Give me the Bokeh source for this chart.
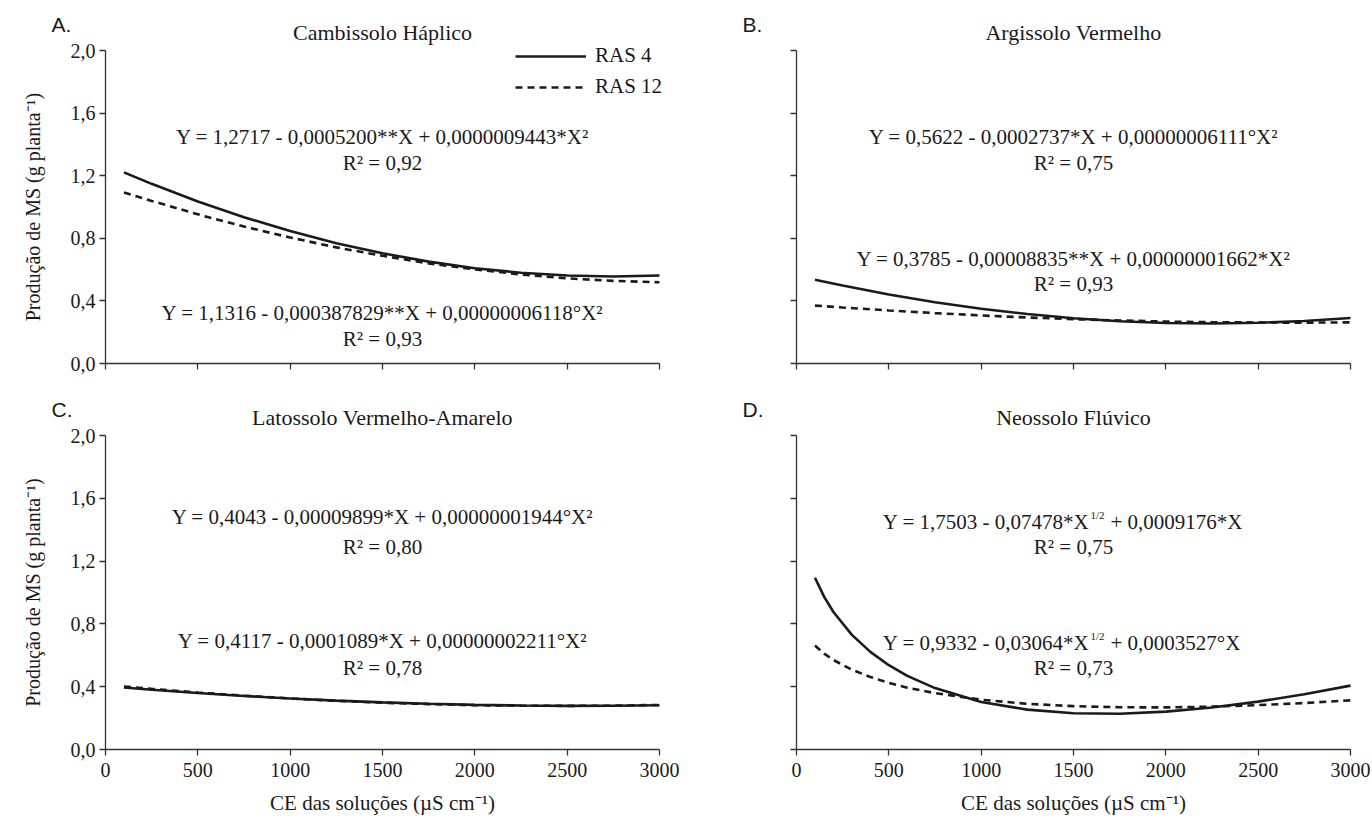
from bokeh.plotting import figure
from bokeh.models import (Range1d, FixedTicker, CustomJSTickFormatter, Label,
                          Legend, LegendItem, LinearAxis)
from bokeh.layouts import column, row
from bokeh.embed import file_html
from bokeh.resources import INLINE

# ---------------- data ----------------
x_ticks = [0, 500, 1000, 1500, 2000, 2500, 3000]
y_ticks = [0.0, 0.4, 0.8, 1.2, 1.6, 2.0]

ce = [100, 250, 500, 750, 1000, 1250, 1500, 1750, 2000, 2250, 2500, 2750, 3000]
ce_d = [100, 150, 200, 300, 400, 500, 600, 750, 1000, 1250, 1500, 1750,
        2000, 2250, 2500, 2750, 3000]

# A. Cambissolo Háplico
a_ras4 = [1.221, 1.148, 1.035, 0.935, 0.846, 0.769, 0.704, 0.651, 0.609,
          0.580, 0.562, 0.556, 0.562]
a_ras12 = [1.093, 1.039, 0.953, 0.875, 0.805, 0.742, 0.688, 0.640, 0.601,
           0.569, 0.544, 0.528, 0.519]
# B. Argissolo Vermelho
b_ras4 = [0.535, 0.498, 0.441, 0.391, 0.350, 0.316, 0.289, 0.270, 0.259,
          0.256, 0.260, 0.272, 0.291]
b_ras12 = [0.370, 0.358, 0.339, 0.322, 0.307, 0.294, 0.283, 0.275, 0.268,
           0.264, 0.262, 0.261, 0.263]
# C. Latossolo Vermelho-Amarelo
c_ras4 = [0.395, 0.381, 0.360, 0.341, 0.325, 0.311, 0.300, 0.291, 0.284,
          0.280, 0.278, 0.279, 0.282]
c_ras12 = [0.401, 0.386, 0.363, 0.343, 0.325, 0.310, 0.298, 0.289, 0.282,
           0.279, 0.278, 0.279, 0.284]
# D. Neossolo Flúvico
d_ras4 = [1.094, 0.972, 0.876, 0.730, 0.622, 0.537, 0.469, 0.391, 0.303,
          0.254, 0.231, 0.228, 0.241, 0.268, 0.305, 0.352, 0.407]
d_ras12 = [0.662, 0.611, 0.570, 0.508, 0.462, 0.424, 0.394, 0.359, 0.317,
           0.291, 0.276, 0.269, 0.268, 0.273, 0.283, 0.296, 0.313]

series_names = ["RAS 4", "RAS 12"]

titles = ["Cambissolo Háplico", "Argissolo Vermelho",
          "Latossolo Vermelho-Amarelo", "Neossolo Flúvico"]
letters = ["A.", "B.", "C.", "D."]

eq_a = ["Y = 1,2717 - 0,0005200**X + 0,0000009443*X²", "R² = 0,92",
        "Y = 1,1316 - 0,000387829**X + 0,00000006118°X²", "R² = 0,93"]
eq_b = ["Y = 0,5622 - 0,0002737*X + 0,00000006111°X²", "R² = 0,75",
        "Y = 0,3785 - 0,00008835**X + 0,00000001662*X²", "R² = 0,93"]
eq_c = ["Y = 0,4043 - 0,00009899*X + 0,00000001944°X²", "R² = 0,80",
        "Y = 0,4117 - 0,0001089*X + 0,00000002211°X²", "R² = 0,78"]
# panel D equations: (before exponent, exponent, after exponent)
eq_d = [("Y = 1,7503 - 0,07478*X", "1/2", "+ 0,0009176*X"), "R² = 0,75",
        ("Y = 0,9332 - 0,03064*X", "1/2", "+ 0,0003527°X"), "R² = 0,73"]

y_label = "Produção de MS (g planta⁻¹)"
x_label = "CE das soluções (µS cm⁻¹)"

# ---------------- styling / layout ----------------
SERIF = "Liberation Serif"
EQ_FS = "21px"
TITLE_FS = "22px"
INK = "#1a1a1a"
AX = "#333333"


def make_panel(x, y4, y12, title, letter, eqs, eq_y, w, h,
               x0px, x3000px, y2px, y0px, show_xlab, show_ylab,
               legend=False):
    sx = (x3000px - x0px) / 3000.0      # px per x unit
    sy = (y0px - y2px) / 2.0            # px per y unit
    p = figure(width=w, height=h, output_backend="svg",
               toolbar_location=None,
               x_range=Range1d(-x0px / sx, (w - x0px) / sx),
               y_range=Range1d(-(h - y0px) / sy, y0px / sy),
               x_axis_type=None, y_axis_type=None, min_border=0)
    p.outline_line_color = None
    p.grid.visible = False

    xa = LinearAxis(fixed_location=0, bounds=(0, 3000),
                    ticker=FixedTicker(ticks=x_ticks))
    ya = LinearAxis(fixed_location=0, bounds=(0, 2.0),
                    ticker=FixedTicker(ticks=y_ticks))
    for ax in (xa, ya):
        ax.axis_line_color = AX
        ax.axis_line_width = 1.3
        ax.major_tick_line_color = AX
        ax.major_tick_line_width = 1.3
        ax.major_tick_out = 6
        ax.major_tick_in = 0
        ax.minor_tick_line_color = None
        ax.major_label_text_font = SERIF
        ax.major_label_text_font_size = "20px"
        ax.major_label_text_color = INK
        ax.axis_label_text_font = SERIF
        ax.axis_label_text_font_style = "normal"
        ax.axis_label_text_color = INK

    if show_xlab:
        xa.formatter = CustomJSTickFormatter(code="return tick.toFixed(0);")
        xa.axis_label = x_label
        xa.axis_label_text_font_size = "21px"
        xa.major_label_standoff = 7
        xa.axis_label_standoff = 11
    else:
        xa.formatter = CustomJSTickFormatter(code="return '';")
    if show_ylab:
        ya.formatter = CustomJSTickFormatter(
            code="return tick.toFixed(1).replace('.', ',');")
        ya.axis_label = y_label
        ya.axis_label_text_font_size = "20px"
        ya.major_label_standoff = 4
        ya.axis_label_standoff = 24
    else:
        ya.formatter = CustomJSTickFormatter(code="return '';")
    p.add_layout(xa, "below")
    p.add_layout(ya, "left")

    r4 = p.line(x, y4, line_color=INK, line_width=2.6)
    r12 = p.line(x, y12, line_color=INK, line_width=2.6, line_dash="7 5")

    if legend:
        leg = Legend(items=[LegendItem(label=series_names[0], renderers=[r4]),
                            LegendItem(label=series_names[1], renderers=[r12])],
                     location=(515, h - 99), glyph_width=71, glyph_height=24,
                     label_height=24, label_standoff=9, spacing=6,
                     padding=0, margin=0, border_line_color=None,
                     background_fill_alpha=0,
                     label_text_font=SERIF, label_text_font_size=EQ_FS,
                     label_text_color=INK)
        p.add_layout(leg, "center")

    # panel title and letter (placed above the axes)
    p.add_layout(Label(x=1500, y=2.0 + 18 / sy, text=title,
                       text_align="center", text_baseline="middle",
                       text_font=SERIF, text_font_size=TITLE_FS,
                       text_color=INK))
    p.add_layout(Label(x=-54 / sx, y=2.0 + 26 / sy, text=letter,
                       text_align="left", text_baseline="middle",
                       text_font="Liberation Sans", text_font_size="21px",
                       text_color=INK))

    # equations
    for txt, yy in zip(eqs, eq_y):
        if isinstance(txt, tuple):
            pre, sup, post = txt
            off = 16
            p.add_layout(Label(x=1500, y=yy, x_offset=off, text=pre,
                               text_align="right", text_baseline="middle",
                               text_font=SERIF, text_font_size=EQ_FS,
                               text_color=INK))
            p.add_layout(Label(x=1500, y=yy, x_offset=off + 1, y_offset=7,
                               text=sup, text_align="left",
                               text_baseline="middle", text_font=SERIF,
                               text_font_size="11px", text_color=INK))
            p.add_layout(Label(x=1500, y=yy, x_offset=off + 21, text=post,
                               text_align="left", text_baseline="middle",
                               text_font=SERIF, text_font_size=EQ_FS,
                               text_color=INK))
        else:
            p.add_layout(Label(x=1500, y=yy, text=txt, text_align="center",
                               text_baseline="middle", text_font=SERIF,
                               text_font_size=EQ_FS, text_color=INK))
    return p


ROW1_H = 392
ROW2_H = 428

pa = make_panel(ce, a_ras4, a_ras12, titles[0], letters[0], eq_a,
                [1.45, 1.28, 0.325, 0.155], 686, ROW1_H, 105, 659, 50, 363,
                False, True, legend=True)
pb = make_panel(ce, b_ras4, b_ras12, titles[1], letters[1], eq_b,
                [1.45, 1.28, 0.67, 0.51], 686, ROW1_H, 110, 664, 50, 363,
                False, False)
pc = make_panel(ce, c_ras4, c_ras12, titles[2], letters[2], eq_c,
                [1.48, 1.29, 0.69, 0.52], 686, ROW2_H, 105, 659,
                435 - ROW1_H, 749 - ROW1_H, True, True)
pd = make_panel(ce_d, d_ras4, d_ras12, titles[3], letters[3], eq_d,
                [1.45, 1.29, 0.68, 0.52], 686, ROW2_H, 110, 664,
                435 - ROW1_H, 749 - ROW1_H, True, False)

layout = column(row(pa, pb), row(pc, pd))

with open("out.html", "w") as f:
    f.write(file_html(layout, INLINE))
